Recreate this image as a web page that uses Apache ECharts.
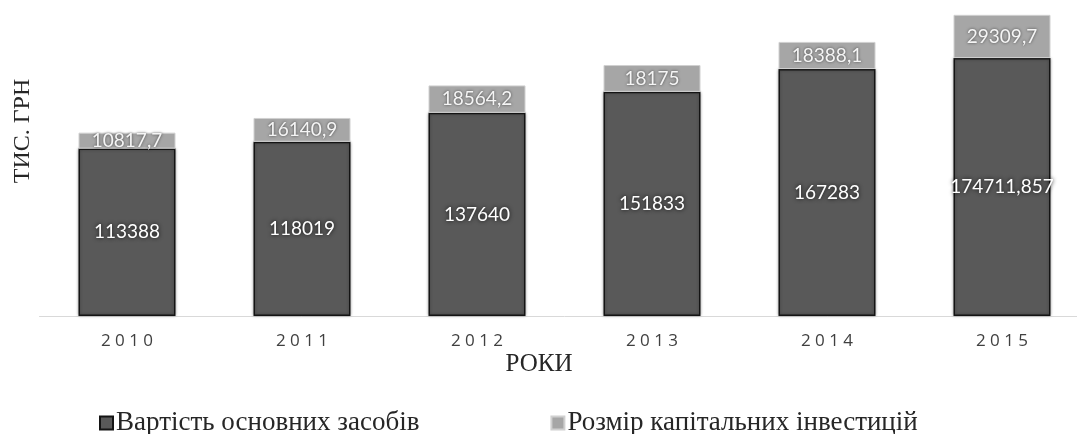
<!DOCTYPE html>
<html>
<head>
<meta charset="utf-8">
<script src="https://cdn.jsdelivr.net/npm/echarts@6/dist/echarts.min.js"></script>
<style>
  html, body { margin: 0; padding: 0; background: #ffffff; overflow: hidden; }
  /* plot area runs slightly past the right edge of the window */
  #chart { width: 1090px; height: 434px; }
</style>
</head>
<body>
<div id="chart"></div>
<script>
// Years on the category axis
const years = ['2010', '2011', '2012', '2013', '2014', '2015'];
// Вартість основних засобів, тис. грн
const fixedAssets = [113388, 118019, 137640, 151833, 167283, 174711.857];
// Розмір капітальних інвестицій, тис. грн
const capitalInvestment = [10817.7, 16140.9, 18564.2, 18175, 18388.1, 29309.7];

const seriesNames = ['Вартість основних засобів', 'Розмір капітальних інвестицій'];

const fmt = v => String(v).replace('.', ',');
const spaced = s => s.split('').join(' ');

const chart = echarts.init(document.getElementById('chart'), null, { renderer: 'canvas' });

const labelStyle = {
  show: true,
  position: 'inside',
  fontFamily: 'Lato, "Open Sans", sans-serif',
  fontSize: 19,
  color: '#ffffff',
  textBorderWidth: 0,
  textShadowColor: 'rgba(0,0,0,0.85)',
  textShadowBlur: 4,
  formatter: p => fmt(p.value)
};

const serif = '"Liberation Serif", "DejaVu Serif", serif';

chart.setOption({
  animation: false,
  backgroundColor: '#ffffff',
  grid: { left: 39.5, width: 1050, top: 6, bottom: 118, containLabel: false },
  legend: {
    data: seriesNames,
    left: 99,
    top: 409,
    padding: 0,
    icon: 'rect',
    itemWidth: 13,
    itemHeight: 13,
    itemGap: 131,
    textStyle: {
      fontFamily: serif,
      fontSize: 27,
      color: '#262626',
      lineHeight: 28,
      padding: [0, 0, 0, -2]
    }
  },
  xAxis: {
    type: 'category',
    data: years,
    axisLine: { show: true, lineStyle: { color: '#d9d9d9', width: 1 } },
    axisTick: { show: false },
    axisLabel: {
      margin: 17,
      fontFamily: '"Open Sans", "Noto Sans", sans-serif',
      fontSize: 17,
      color: '#404040',
      formatter: v => spaced(v)
    }
  },
  yAxis: {
    type: 'value',
    min: 0,
    max: 210000,
    show: false,
    splitLine: { show: false }
  },
  graphic: [
    {
      type: 'text',
      x: 539,
      y: 364,
      style: {
        text: 'РОКИ',
        font: '25px ' + serif,
        fill: '#262626',
        align: 'center',
        verticalAlign: 'middle'
      }
    },
    {
      type: 'text',
      x: 23,
      y: 131,
      rotation: Math.PI / 2,
      style: {
        text: 'ТИС. ГРН',
        font: '24px ' + serif,
        fill: '#262626',
        align: 'center',
        verticalAlign: 'middle'
      }
    }
  ],
  series: [
    {
      name: seriesNames[0],
      type: 'bar',
      stack: 'total',
      barWidth: 97,
      data: fixedAssets,
      itemStyle: {
        color: '#595959',
        borderColor: '#141414',
        borderWidth: 1.5,
        shadowColor: 'rgba(0,0,0,0.35)',
        shadowBlur: 3
      },
      label: labelStyle
    },
    {
      name: seriesNames[1],
      type: 'bar',
      stack: 'total',
      barWidth: 97,
      data: capitalInvestment,
      itemStyle: {
        color: '#a6a6a6',
        borderColor: '#d0d0d0',
        borderWidth: 1
      },
      label: Object.assign({}, labelStyle, {
        color: '#f5f5f5',
        textShadowColor: 'rgba(0,0,0,0.6)',
        textShadowBlur: 3
      })
    }
  ]
});
</script>
</body>
</html>
